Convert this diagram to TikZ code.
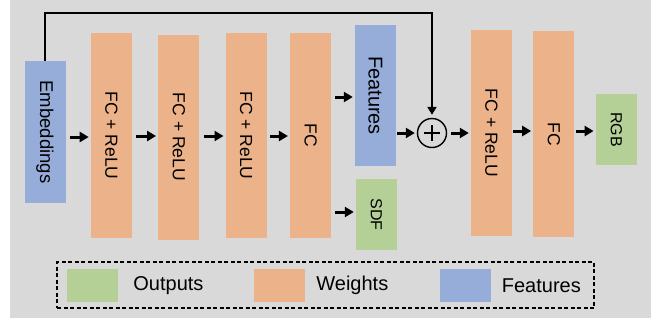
\documentclass[tikz,border=0pt]{standalone}
\usepackage{fontspec}
\setmainfont{Liberation Sans}
\usepackage{xcolor}
\usetikzlibrary{arrows.meta,positioning}

\definecolor{weightc}{RGB}{236,178,138}
\definecolor{featc}{RGB}{150,173,218}
\definecolor{outc}{RGB}{180,208,150}
\definecolor{bgc}{RGB}{217,217,217}

\newcommand{\fsz}[1]{\fontsize{#1}{#1}\selectfont}

\begin{document}
\begin{tikzpicture}[
  x=1pt, y=-1pt,
  layer/.style={rectangle, minimum width=41pt, minimum height=205pt,
                inner sep=0pt, fill=weightc, font=\fsz{17.5}},
  feat/.style={rectangle, minimum width=41pt, inner sep=0pt,
               fill=featc, font=\fsz{18.5}},
  outp/.style={rectangle, minimum width=41pt, minimum height=71pt,
               inner sep=0pt, fill=outc, font=\fsz{16}},
  sumnode/.style={circle, draw, line width=1.4pt, minimum size=29pt,
                  inner sep=0pt,
                  path picture={\draw[line width=1.4pt]
                    ([xshift=-8pt]path picture bounding box.center) -- ++(16,0)
                    ([yshift=8pt]path picture bounding box.center) -- ++(0,16);}},
  swatch/.style={rectangle, minimum width=51pt, minimum height=33pt,
                 inner sep=0pt},
  legtext/.style={inner sep=0pt, font=\fsz{20}, anchor=west},
  legframe/.style={rectangle, draw, dashed, dash pattern=on 4pt off 2.5pt,
                   line width=1.2pt, minimum width=537pt, minimum height=46pt},
  arr/.style={-{Triangle[length=9pt,width=10pt]}, line width=3pt,
              shorten <=3pt, shorten >=2pt},
  skip/.style={-{Triangle[length=8pt,width=9pt]}, line width=2.2pt,
               shorten >=3pt},
]

% Background
\fill[bgc] (10,0) rectangle (651,318);
\useasboundingbox (0,0) rectangle (656,325);

% Encoder
\node[feat, minimum height=142pt] (emb) at (45,132) {\rotatebox{-90}{Embeddings}};
\node[layer, right=25pt of emb, yshift=-3.5pt] (fc1) {\rotatebox{-90}{FC + ReLU}};
\node[layer, right=26pt of fc1, yshift=-1.5pt] (fc2) {\rotatebox{-90}{FC + ReLU}};
\node[layer, right=26pt of fc2, yshift=1.5pt] (fc3) {\rotatebox{-90}{FC + ReLU}};
\node[layer, right=23pt of fc3] (fc4) {\rotatebox{-90}{FC}};

% Heads
\node[feat, minimum height=141pt, font=\fsz{20}] (feat) at (375.5,95.5) {\rotatebox{-90}{Features}};
\node[outp] (sdf) at (376.5,214.5) {\rotatebox{-90}{SDF}};

% Color branch
\node[sumnode] (sum) at (432,133) {};
\node[layer, minimum height=206pt] (fc5) at (491.5,133) {\rotatebox{-90}{FC + ReLU}};
\node[layer, minimum height=206pt, right=21pt of fc5, yshift=-1pt] (fc6) {\rotatebox{-90}{FC}};
\node[outp, right=21pt of fc6, yshift=4.5pt] (rgb) {\rotatebox{-90}{RGB}};

% Connections
\draw[arr, shorten <=4pt] (emb.east |- 0,137) -- (fc1.west |- 0,137);
\draw[arr, shorten <=4pt] (fc1.east |- 0,136) -- (fc2.west |- 0,136);
\draw[arr, shorten <=4pt] (fc2.east |- 0,136) -- (fc3.west |- 0,136);
\draw[arr] (fc3.east |- 0,136) -- (fc4.west |- 0,136);
\draw[arr, shorten <=4pt] (fc4.east |- 0,97) -- (feat.west |- 0,97);
\draw[arr, shorten <=4pt] (fc4.east |- 0,212) -- (sdf.west |- 0,212);
\draw[arr, shorten <=1pt] (feat.east |- sum) -- (sum.west);
\draw[arr, shorten <=4pt] (sum.east) -- (fc5.west |- sum);
\draw[arr, shorten <=1pt] (fc5.east |- 0,131) -- (fc6.west |- 0,131);
\draw[arr, shorten <=1pt] (fc6.east |- 0,131) -- (rgb.west |- 0,131);

% Skip connection
\draw[skip] (emb.north) -- ++(0,-48) -| (sum.north);

% Legend
\node[legframe] (legend) at (325.5,285) {};
\node[swatch, fill=outc] (swout) at (92.5,285.5) {};
\node[legtext, right=15pt of swout] (txout) {Outputs};
\node[swatch, fill=weightc] (swwt) at (279.5,285.5) {};
\node[legtext, right=11pt of swwt] (txwt) {Weights};
\node[swatch, fill=featc] (swft) at (465,285.5) {};
\node[legtext, right=11pt of swft] (txft) {Features};

\end{tikzpicture}
\end{document}
